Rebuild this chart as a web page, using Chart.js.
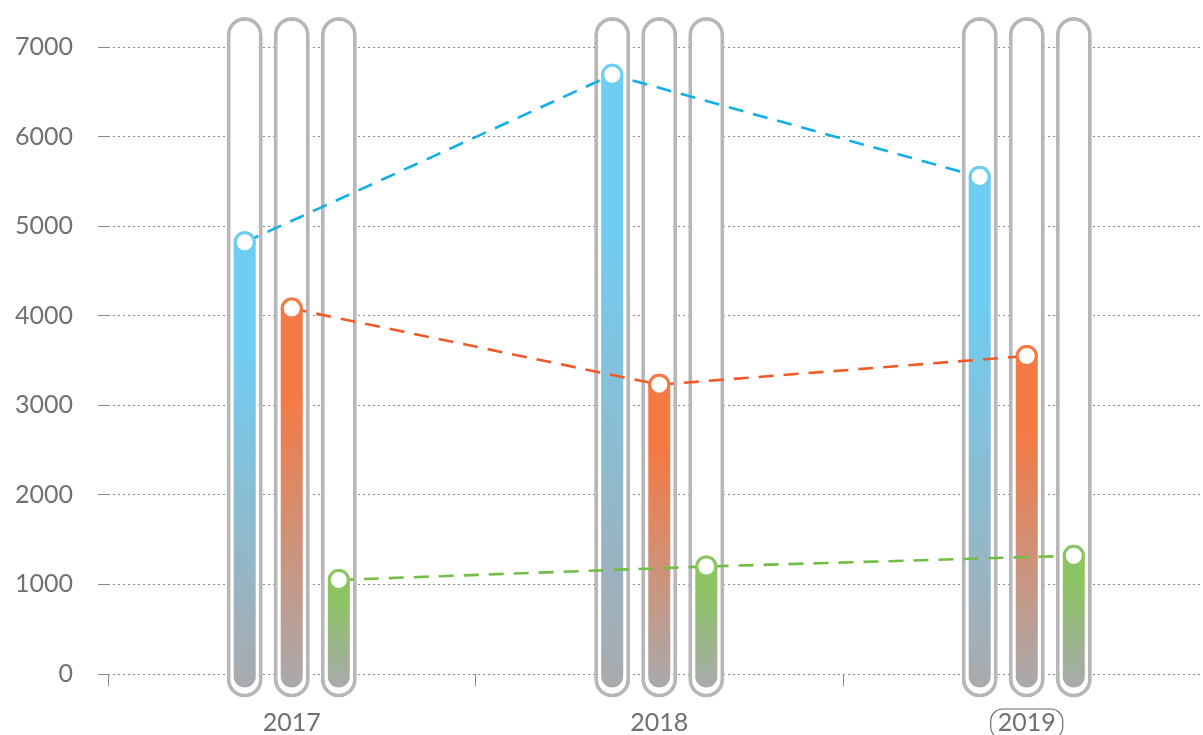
<!DOCTYPE html>
<html>
<head>
<meta charset="utf-8">
<script src="https://cdn.jsdelivr.net/npm/chart.js@4.4.1/dist/chart.umd.min.js"></script>
<style>
  html, body { margin: 0; padding: 0; background: #fff; overflow: hidden; }
  #wrap { position: relative; width: 1223px; height: 735px; }
</style>
</head>
<body>
<div id="wrap"><canvas id="chart"></canvas></div>
<script>
// data
const years = ['2017', '2018', '2019'];
const blueValues = [4820, 6690, 5550];
const orangeValues = [4080, 3230, 3550];
const greenValues = [1050, 1200, 1320];
const yTicks = [0, 1000, 2000, 3000, 4000, 5000, 6000, 7000];
const yMax = 7000;
const activeYear = '2019';

const series = [
  { values: blueValues,   fill: '#6fcdf3', line: '#12aee9' },
  { values: orangeValues, fill: '#f37a45', line: '#f05a28' },
  { values: greenValues,  fill: '#8cc462', line: '#72bd45' },
];

const GRAY_END = '#a9aaad';
const TRACK_TOP = 30;     // capsule overshoot above max, px
const TRACK_BOTTOM = 24;  // capsule overshoot below zero, px
const FILL_BOTTOM = 14;   // fill overshoot below zero, px
const CAT_PCT = 0.384;
const FONT = { family: 'Lato, "Open Sans", sans-serif', size: 25, weight: '400' };
const TEXT = '#707070';

function barGradient(top) {
  return (ctx) => {
    const chart = ctx.chart;
    if (!chart.chartArea || ctx.raw == null) return top;
    const y = chart.scales.y;
    const t = y.getPixelForValue(ctx.raw) - 11;
    const b = y.getPixelForValue(0) + FILL_BOTTOM;
    const g = chart.ctx.createLinearGradient(0, t, 0, b);
    g.addColorStop(0, top);
    g.addColorStop(0.25, top);
    g.addColorStop(1, GRAY_END);
    return g;
  };
}

const datasets = [];

// grey capsule tracks; each shares a group slot (stack) with its fill
series.forEach((s, i) => {
  datasets.push({
    type: 'bar', role: 'track', stack: 's' + i,
    data: years.map(() => yMax),
    backgroundColor: '#ffffff',
    borderColor: '#b7b7b7',
    borderWidth: 4,
    borderRadius: 18,
    borderSkipped: false,
    categoryPercentage: CAT_PCT,
    barPercentage: 0.766,
    clip: false,
    order: 3,
  });
});

// coloured fills
series.forEach((s, i) => {
  datasets.push({
    type: 'bar', role: 'fill', stack: 's' + i,
    data: s.values,
    backgroundColor: barGradient(s.fill),
    borderWidth: 0,
    borderRadius: 11,
    borderSkipped: false,
    categoryPercentage: CAT_PCT,
    barPercentage: 0.468,
    clip: false,
    order: 2,
  });
});

// dashed trend lines with ring markers
series.forEach((s, i) => {
  datasets.push({
    type: 'line', role: 'line', barIndex: series.length + i,
    data: s.values,
    borderColor: s.line,
    borderWidth: 2.6,
    borderDash: [15, 10],
    tension: 0,
    fill: false,
    pointRadius: 9.5,
    pointBorderWidth: 3,
    pointBackgroundColor: '#ffffff',
    pointBorderColor: s.fill,
    clip: false,
    order: 1,
  });
});

// stretch bars into capsules and pin line points onto their bars
const shapePlugin = {
  id: 'shape',
  afterDatasetsUpdate(chart) {
    chart.data.datasets.forEach((ds, i) => {
      const meta = chart.getDatasetMeta(i);
      if (ds.role === 'track') {
        meta.data.forEach(el => { el.y -= TRACK_TOP; el.base += TRACK_BOTTOM; });
      } else if (ds.role === 'fill') {
        meta.data.forEach(el => { el.y -= el.width / 2; el.base += FILL_BOTTOM; });
      } else if (ds.role === 'line') {
        const barMeta = chart.getDatasetMeta(ds.barIndex);
        meta.data.forEach((pt, j) => { pt.x = barMeta.data[j].x; });
      }
    });
  }
};

// rounded frame round the selected year label
const activeLabelPlugin = {
  id: 'activeLabel',
  afterDraw(chart) {
    const xs = chart.scales.x;
    const idx = years.indexOf(activeYear);
    if (idx < 0) return;
    const cx = xs.getPixelForTick(idx);
    const ctx = chart.ctx;
    ctx.save();
    ctx.strokeStyle = '#6b6b6b';
    ctx.lineWidth = 1.2;
    ctx.beginPath();
    ctx.roundRect(cx - 36, 709, 72, 30, 12);
    ctx.stroke();
    ctx.restore();
  }
};

new Chart(document.getElementById('chart'), {
  data: { labels: years, datasets },
  options: {
    responsive: true,
    maintainAspectRatio: false,
    animation: false,
    events: [],
    layout: { padding: { top: 47, left: 0, right: 0, bottom: 0 } },
    plugins: { legend: { display: false }, tooltip: { enabled: false } },
    scales: {
      x: {
        type: 'category',
        offset: true,
        grid: { offset: true, drawOnChartArea: false, drawTicks: true, tickLength: 12, color: '#8a8a8a' },
        border: { display: false },
        ticks: { font: FONT, color: TEXT, padding: 22 },
        afterFit: s => { s.height = 61; },
      },
      y: {
        min: 0,
        max: yMax,
        stacked: false,
        afterBuildTicks: s => { s.ticks = yTicks.map(v => ({ value: v })); },
        grid: { color: '#8a8a8a', lineWidth: 1, tickLength: 10, tickBorderDash: [] },
        border: { display: false, dash: [2, 3] },
        ticks: { font: FONT, color: TEXT, padding: 25, callback: v => String(v) },
        afterFit: s => { s.width = 108; },
      },
    },
  },
  plugins: [shapePlugin, activeLabelPlugin],
});
</script>
</body>
</html>
